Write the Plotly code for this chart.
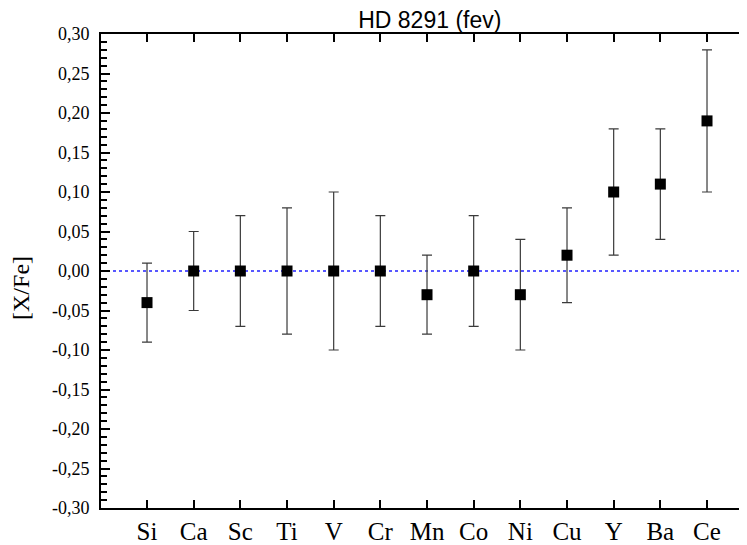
import plotly.graph_objects as go

elements = ["Si", "Ca", "Sc", "Ti", "V", "Cr", "Mn", "Co", "Ni", "Cu", "Y", "Ba", "Ce"]
abund = [-0.04, 0.00, 0.00, 0.00, 0.00, 0.00, -0.03, 0.00, -0.03, 0.02, 0.10, 0.11, 0.19]
errors = [0.05, 0.05, 0.07, 0.08, 0.10, 0.07, 0.05, 0.07, 0.07, 0.06, 0.08, 0.07, 0.09]
y_tickvals = [-0.30, -0.25, -0.20, -0.15, -0.10, -0.05, 0.00, 0.05, 0.10, 0.15, 0.20, 0.25, 0.30]
y_ticktext = ["-0,30", "-0,25", "-0,20", "-0,15", "-0,10", "-0,05", "0,00",
              "0,05", "0,10", "0,15", "0,20", "0,25", "0,30"]

xpos = list(range(1, len(elements) + 1))

fig = go.Figure()
fig.add_trace(go.Scatter(
    x=xpos, y=abund, mode="markers",
    marker=dict(symbol="square", size=11, color="black"),
    error_y=dict(type="data", array=errors, visible=True, color="#3a3a3a",
                 thickness=1.2, width=5),
    showlegend=False,
))

fig.add_shape(type="line", xref="paper", x0=0, x1=1, yref="y", y0=0, y1=0,
              line=dict(color="#2020ff", width=1.5, dash="dot"), layer="below")

serif = "Liberation Serif"

fig.update_layout(
    width=739, height=537,
    margin=dict(l=93, r=0, t=26, b=35),
    plot_bgcolor="white", paper_bgcolor="white",
    title=dict(text="HD 8291 (fev)", xref="paper", x=0.509, xanchor="center",
               yref="container", y=0.977, yanchor="middle",
               font=dict(family="Liberation Sans", size=23, color="black")),
    xaxis=dict(range=[0.014, 13.857], tickmode="array", tickvals=xpos, ticktext=elements,
               showline=True, linecolor="black", linewidth=2, mirror="ticks",
               ticks="inside", ticklen=8, tickwidth=2, tickcolor="black",
               showgrid=False, zeroline=False,
               tickfont=dict(family=serif, size=25, color="black")),
    yaxis=dict(range=[-0.30, 0.30], tickmode="array", tickvals=y_tickvals, ticktext=y_ticktext,
               showline=True, linecolor="black", linewidth=2,
               ticks="inside", ticklen=9, tickwidth=2, tickcolor="black",
               minor=dict(ticks="inside", ticklen=6, tickwidth=1.5, tickcolor="black",
                          dtick=0.01, tick0=0, showgrid=False),
               showgrid=False, zeroline=False, ticklabelstandoff=6,
               tickfont=dict(family=serif, size=18, color="black")),
    yaxis2=dict(range=[-0.30, 0.30], overlaying="y", side="right", anchor="x",
                tickmode="array", tickvals=y_tickvals, showticklabels=False,
                ticks="inside", ticklen=4, tickwidth=2, tickcolor="black",
                showline=False, showgrid=False, zeroline=False),
    annotations=[dict(text="[X/Fe]", xref="paper", yref="paper", x=-0.124, y=0.464,
                      textangle=-90, showarrow=False, xanchor="center", yanchor="middle",
                      font=dict(family=serif, size=24, color="black"))],
)

fig.write_html("out.html")
